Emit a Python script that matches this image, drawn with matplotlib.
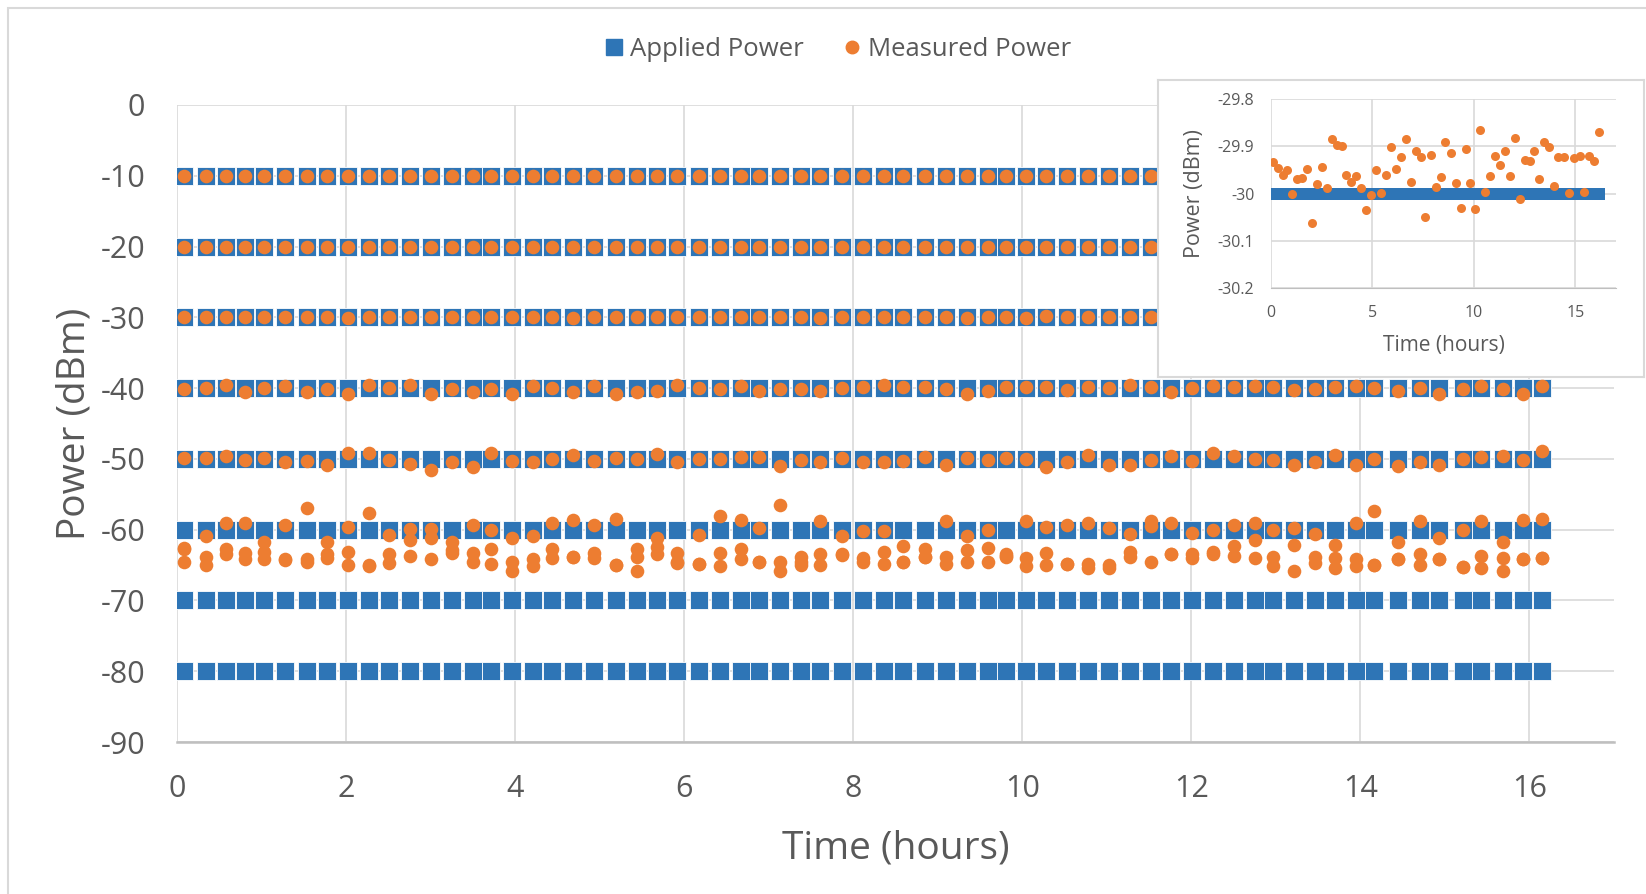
import matplotlib
matplotlib.use("Agg")
import matplotlib.pyplot as plt
from matplotlib.patches import Rectangle
from matplotlib.lines import Line2D

plt.rcParams['font.family'] = ['Open Sans', 'DejaVu Sans']
plt.rcParams['axes.unicode_minus'] = False

BLUE = "#2E75B6"
ORANGE = "#ED7D31"
TXT = "#595959"
GRID = "#D9D9D9"

# sample times (hours)
times = [0.08, 0.34, 0.58, 0.80, 1.03, 1.28, 1.54, 1.77, 2.02, 2.27, 2.51, 2.76,
         3.01, 3.25, 3.50, 3.71, 3.96, 4.21, 4.44, 4.68, 4.93, 5.19, 5.44, 5.68,
         5.91, 6.18, 6.42, 6.67, 6.88, 7.13, 7.38, 7.61, 7.87, 8.12, 8.36, 8.59,
         8.85, 9.10, 9.35, 9.59, 9.81, 10.04, 10.28, 10.53, 10.78, 11.02, 11.27,
         11.52, 11.76, 12.01, 12.26, 12.50, 12.75, 12.96, 13.21, 13.46, 13.70,
         13.95, 14.16, 14.44, 14.70, 14.93, 15.21, 15.43, 15.69, 15.92, 16.15]

# applied power levels (dBm)
levels = [-10, -20, -30, -40, -50, -60, -70, -80]

# measured power for each applied level
meas_10 = [-10.0, -10.0, -10.0, -10.0, -10.0, -10.0, -10.0, -10.0, -10.0, -10.0,
           -10.0, -10.0, -10.0, -10.0, -10.0, -10.0, -10.0, -10.0, -10.0, -10.0,
           -10.0, -10.0, -10.0, -10.0, -10.0, -10.0, -10.0, -10.0, -10.0, -10.0,
           -10.0, -10.0, -10.0, -10.0, -10.0, -10.0, -10.0, -10.0, -10.0, -10.0,
           -10.0, -10.0, -10.0, -10.0, -10.0, -10.0, -10.0, -10.0, -10.0, -10.0,
           -10.0, -10.0, -10.0, -10.0, -10.0, -10.0, -10.0, -10.0, -10.0, -10.0,
           -10.0, -10.0, -10.0, -10.0, -10.0, -10.0, -10.0]
meas_20 = [-20.0, -20.0, -20.0, -20.0, -20.0, -20.0, -20.0, -20.0, -20.0, -20.0,
           -20.0, -20.0, -20.0, -20.0, -20.0, -20.0, -20.0, -20.0, -20.0, -20.0,
           -20.0, -20.0, -20.0, -20.0, -20.0, -20.0, -20.0, -20.0, -20.0, -20.0,
           -20.0, -20.0, -20.0, -20.0, -20.0, -20.0, -20.0, -20.0, -20.0, -20.0,
           -20.0, -20.0, -20.0, -20.0, -20.0, -20.0, -20.0, -20.0, -20.0, -20.0,
           -20.0, -20.0, -20.0, -20.0, -20.0, -20.0, -20.0, -20.0, -20.0, -20.0,
           -20.0, -20.0, -20.0, -20.0, -20.0, -20.0, -20.0]
meas_30 = [-29.934, -29.945, -29.961, -29.951, -30.001, -29.969, -29.968, -29.948,
           -30.063, -29.980, -29.943, -29.989, -29.885, -29.897, -29.900, -29.961,
           -29.975, -29.963, -29.989, -30.035, -30.003, -29.950, -29.999, -29.961,
           -29.902, -29.948, -29.923, -29.885, -29.975, -29.909, -29.922, -30.050,
           -29.918, -29.987, -29.965, -29.890, -29.915, -29.978, -30.031, -29.906,
           -29.978, -30.032, -29.865, -29.996, -29.964, -29.920, -29.940, -29.911,
           -29.964, -29.883, -30.011, -29.929, -29.932, -29.911, -29.970, -29.892,
           -29.901, -29.985, -29.922, -29.923, -29.999, -29.925, -29.920, -29.996,
           -29.920, -29.932, -29.870]
meas_40 = [-40.1, -40.0, -39.5, -40.6, -40.0, -39.7, -40.6, -40.1, -40.8, -39.6,
           -40.0, -39.6, -40.8, -40.1, -40.6, -40.1, -40.8, -39.7, -40.0, -40.6,
           -39.7, -40.8, -40.6, -40.4, -39.6, -40.0, -40.1, -39.7, -40.4, -40.1,
           -40.1, -40.4, -40.0, -39.8, -39.6, -39.8, -39.8, -40.1, -40.9, -40.4,
           -39.8, -39.8, -39.8, -40.3, -39.8, -40.0, -39.6, -39.8, -40.6, -40.0,
           -39.7, -39.8, -39.7, -39.8, -40.3, -40.1, -39.8, -39.7, -40.0, -40.4,
           -40.0, -40.8, -40.1, -39.7, -40.1, -40.8, -39.7]
meas_50 = [-49.9, -49.9, -49.6, -50.2, -49.9, -50.4, -50.3, -50.8, -49.2, -49.2,
           -50.2, -50.7, -51.5, -50.5, -51.1, -49.2, -50.3, -50.5, -50.0, -49.5,
           -50.3, -49.9, -50.0, -49.3, -50.4, -50.0, -50.0, -49.7, -49.7, -51.0,
           -50.1, -50.4, -49.9, -50.4, -50.4, -50.3, -49.7, -50.9, -49.9, -50.2,
           -49.9, -50.0, -51.1, -50.4, -49.4, -50.8, -50.8, -50.2, -49.6, -50.3,
           -49.2, -49.6, -50.0, -50.2, -50.9, -50.5, -49.5, -50.9, -50.0, -51.0,
           -50.5, -50.8, -50.0, -49.7, -49.6, -50.2, -48.9]
meas_60 = [-62.6, -60.9, -59.1, -59.0, -61.7, -59.3, -56.9, -61.7, -59.6, -57.7,
           -60.7, -59.9, -59.9, -61.8, -59.3, -60.0, -61.2, -60.9, -59.1, -58.6,
           -59.4, -58.5, -62.8, -61.2, -63.3, -60.7, -58.0, -58.7, -59.8, -56.5,
           -63.9, -58.8, -60.9, -60.2, -60.2, -62.3, -62.7, -58.8, -60.9, -60.1,
           -63.5, -58.8, -59.6, -59.3, -59.0, -59.8, -60.6, -58.8, -59.0, -60.5,
           -60.1, -59.3, -59.1, -60.1, -59.8, -60.6, -62.1, -59.0, -57.3, -61.7,
           -58.8, -61.2, -60.1, -58.8, -61.8, -58.7, -58.5]
meas_70 = [-62.8, -63.8, -62.8, -63.3, -63.1, -64.2, -64.2, -63.5, -63.1, -65.0,
           -63.5, -61.4, -61.2, -62.9, -63.3, -62.8, -64.6, -64.2, -62.7, -63.8,
           -63.3, -65.0, -63.8, -62.4, -64.5, -64.8, -63.3, -62.8, -64.5, -64.5,
           -64.5, -63.5, -63.4, -64.0, -63.1, -64.5, -63.8, -63.8, -62.9, -62.6,
           -63.7, -64.0, -63.3, -64.8, -64.8, -65.0, -63.1, -59.5, -63.5, -63.5,
           -63.1, -62.3, -61.4, -63.8, -62.1, -63.8, -64.0, -64.2, -65.0, -64.2,
           -63.5, -64.2, -65.3, -63.7, -64.0, -64.2, -64.0]
meas_80 = [-64.5, -65.0, -63.5, -64.2, -64.2, -64.3, -64.6, -64.0, -65.0, -65.2,
           -64.7, -63.7, -64.2, -63.3, -64.6, -64.8, -65.8, -65.1, -64.0, -63.8,
           -64.0, -65.0, -65.8, -63.5, -64.7, -64.8, -65.1, -64.2, -64.5, -65.8,
           -65.0, -65.0, -63.6, -64.6, -64.8, -64.6, -63.8, -64.8, -64.5, -64.5,
           -63.8, -65.1, -65.0, -64.8, -65.4, -65.4, -63.8, -64.5, -63.5, -64.0,
           -63.5, -63.7, -64.0, -65.1, -65.8, -64.7, -65.4, -65.1, -65.0, -64.2,
           -65.0, -64.2, -65.3, -65.4, -65.9, -64.2, -64.0]

measured = [meas_10, meas_20, meas_30, meas_40, meas_50, meas_60, meas_70, meas_80]

W, H = 1646, 894
fig = plt.figure(figsize=(W / 100, H / 100), dpi=100)

# outer chart border (Excel chart area)
fig.patches.append(Rectangle((8 / W, -0.1), 1.2, 1 - 8 / H + 0.1,
                             transform=fig.transFigure, fill=False,
                             edgecolor=GRID, linewidth=1.5))


def style_axes(ax, tick_size, pad):
    for s in ("left", "top", "right"):
        ax.spines[s].set_visible(False)
    ax.spines["bottom"].set_color("#BFBFBF")
    ax.grid(True, color=GRID, linewidth=1.2)
    ax.set_axisbelow(True)
    ax.tick_params(length=0, labelsize=tick_size, labelcolor=TXT, pad=pad)


# ---- main chart ----
ax = fig.add_axes([177 / W, 1 - 742 / H, 1437 / W, 637 / H])
for lv in levels:
    ax.plot(times, [lv] * len(times), ls="none", marker="s", ms=12.5,
            mfc=BLUE, mec="white", mew=0.6, zorder=2)
for m in measured:
    ax.plot(times, m, ls="none", marker="o", ms=9.8, mfc=ORANGE,
            mec=ORANGE, mew=0, zorder=3)

ax.set_xlim(0, 17)
ax.set_ylim(-90, 0)
ax.set_xticks(range(0, 17, 2))
ax.set_yticks(range(-90, 1, 10))
style_axes(ax, 22, 23)
ax.spines["bottom"].set_linewidth(1.8)
ax.set_xlabel("Time (hours)", fontsize=28, color=TXT)
ax.set_ylabel("Power (dBm)", fontsize=28, color=TXT)
ax.xaxis.set_label_coords(0.5, -0.137)
ax.yaxis.set_label_coords(-0.058, 0.5)

handles = [Line2D([], [], ls="none", marker="s", ms=11, mfc=BLUE, mec=BLUE),
           Line2D([], [], ls="none", marker="o", ms=9, mfc=ORANGE, mec=ORANGE)]
leg = fig.legend(handles, ["Applied Power", "Measured Power"], loc="center",
                 bbox_to_anchor=(0.508, 1 - 49 / H), ncol=2, frameon=False,
                 fontsize=18.5, handletextpad=0.1, columnspacing=1.4,
                 handlelength=1.0)
for t in leg.get_texts():
    t.set_color(TXT)

# ---- inset ----
frame = fig.add_axes([1158 / W, 1 - 377 / H, 486 / W, 297 / H])
frame.set_xticks([])
frame.set_yticks([])
for s in frame.spines.values():
    s.set_color(GRID)
    s.set_linewidth(1.5)

ins = fig.add_axes([1271 / W, 1 - 288 / H, 345 / W, 189 / H])
ins.plot(times, [levels[2]] * len(times), ls="none", marker="s", ms=9,
         mfc=BLUE, mec=BLUE, mew=0, zorder=2)
ins.plot(times, meas_30, ls="none", marker="o", ms=6.5, mfc=ORANGE,
         mec=ORANGE, mew=0, zorder=3)
ins.set_xlim(0, 17)
ins.set_ylim(-30.2, -29.8)
ins.set_xticks([0, 5, 10, 15])
ins.set_yticks([-30.2, -30.1, -30.0, -29.9, -29.8])
ins.set_yticklabels(["-30.2", "-30.1", "-30", "-29.9", "-29.8"])
style_axes(ins, 11.5, 12)
ins.set_xlabel("Time (hours)", fontsize=15, color=TXT)
ins.set_ylabel("Power (dBm)", fontsize=15.5, color=TXT)
ins.xaxis.set_label_coords(0.5, -0.25)
ins.yaxis.set_label_coords(-0.19, 0.5)

fig.savefig("out.png", dpi=100)
